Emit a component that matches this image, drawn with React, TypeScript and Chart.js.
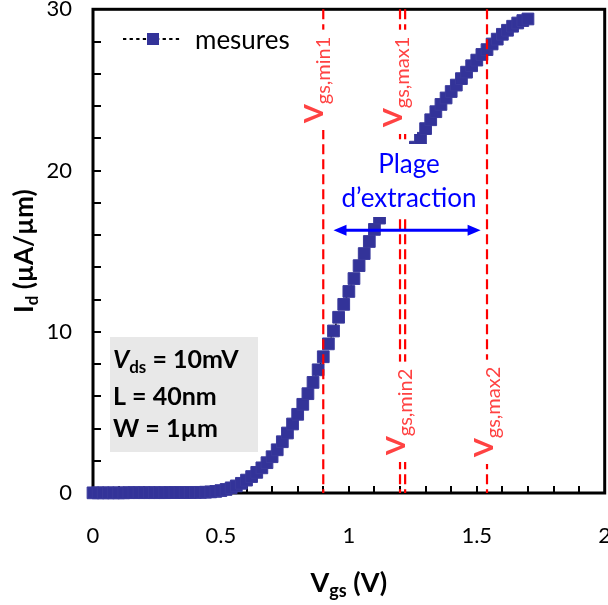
import React, { useEffect, useRef } from "react";
import { Chart, registerables } from "chart.js";

Chart.register(...registerables);

// ---------- data ----------
const vgs = [
  0, 0.02, 0.04, 0.06, 0.08, 0.1, 0.12, 0.14, 0.16, 0.18, 0.2, 0.22, 0.24, 0.26, 0.28, 0.3,
  0.32, 0.34, 0.36, 0.38, 0.4, 0.42, 0.44, 0.46, 0.48, 0.5, 0.52, 0.54, 0.56, 0.58, 0.6, 0.62,
  0.64, 0.66, 0.68, 0.7, 0.72, 0.74, 0.76, 0.78, 0.8, 0.82, 0.84, 0.86, 0.88, 0.9, 0.92, 0.94,
  0.96, 0.98, 1.0, 1.02, 1.04, 1.06, 1.08, 1.1, 1.12, 1.14, 1.16, 1.18, 1.2, 1.22, 1.24, 1.26,
  1.28, 1.3, 1.32, 1.34, 1.36, 1.38, 1.4, 1.42, 1.44, 1.46, 1.48, 1.5, 1.52, 1.54, 1.56, 1.58,
  1.6, 1.62, 1.64, 1.66, 1.68, 1.7,
];
const idMesures = [
  0.01, 0.01, 0.01, 0.01, 0.01, 0.01, 0.01, 0.02, 0.02, 0.02, 0.02, 0.02, 0.02, 0.02, 0.02, 0.03,
  0.03, 0.03, 0.03, 0.03, 0.04, 0.04, 0.05, 0.07, 0.1, 0.15, 0.22, 0.32, 0.44, 0.6, 0.8, 1.02,
  1.28, 1.56, 1.88, 2.25, 2.68, 3.18, 3.72, 4.28, 4.88, 5.5, 6.16, 6.86, 7.64, 8.45, 9.25, 10.05,
  10.9, 11.7, 12.5, 13.3, 14.1, 14.85, 15.6, 16.35, 17.05, 17.75, 18.4, 19.05, 19.7, 20.3, 20.88, 21.45,
  22.0, 22.6, 23.15, 23.65, 24.1, 24.5, 24.9, 25.3, 25.7, 26.1, 26.5, 26.85, 27.2, 27.5, 27.85, 28.15,
  28.45, 28.7, 28.95, 29.15, 29.3, 29.4,
];
const seriesName = "mesures";
const xTickValues = [0, 0.5, 1, 1.5, 2];
const xTickLabels = ["0", "0.5", "1", "1.5", "2"];
const yTickValues = [0, 10, 20, 30];
const yTickLabels = ["0", "10", "20", "30"];
const xMinorStep = 0.1;
const yMinorStep = 2;

const vgsMin1 = 0.9;
const vgsMax1 = 1.2;
const vgsMin2 = 1.22;
const vgsMax2 = 1.54;
const arrowFrom = 0.94;
const arrowTo = 1.515;
const arrowLevel = 16.3;

const infoLines = ["= 10mV", "L = 40nm", "W = 1µm"];
const plageText = ["Plage", "d\u2019extraction"];

// ---------- style ----------
const FONT = "Lato, 'Noto Sans', sans-serif";
const MARK = "#333399";
const LABEL_RED = "#ff4242";

type Part = { t: string; size: number; bold?: boolean; italic?: boolean; dy?: number };
const pf = (p: Part) => `${p.italic ? "italic " : ""}${p.bold ? "bold " : ""}${p.size}px ${FONT}`;

function measureParts(ctx: CanvasRenderingContext2D, parts: Part[]) {
  let w = 0;
  for (const p of parts) {
    ctx.font = pf(p);
    w += ctx.measureText(p.t).width;
  }
  return w;
}
function drawParts(ctx: CanvasRenderingContext2D, parts: Part[], x: number, y: number, align: "left" | "center") {
  const w = measureParts(ctx, parts);
  let cx = align === "center" ? x - w / 2 : x;
  ctx.textAlign = "left";
  ctx.textBaseline = "alphabetic";
  for (const p of parts) {
    ctx.font = pf(p);
    ctx.fillText(p.t, cx, y + (p.dy || 0));
    cx += ctx.measureText(p.t).width;
  }
  return w;
}

function rotatedLabel(ctx: CanvasRenderingContext2D, sub: string, ax: number, ay: number) {
  const parts: Part[] = [
    { t: "V", size: 27, bold: true },
    { t: sub, size: 20, dy: 7 },
  ];
  ctx.save();
  ctx.translate(ax, ay);
  ctx.rotate(-Math.PI / 2);
  const w = measureParts(ctx, parts);
  ctx.fillStyle = "#ffffff";
  ctx.fillRect(-7, -22, w + 14, 37);
  ctx.fillStyle = LABEL_RED;
  drawParts(ctx, parts, 0, 0, "left");
  ctx.restore();
}

const overlay = {
  id: "overlay",
  beforeDatasetsDraw(chart: any) {
    const { ctx, chartArea: a, scales } = chart;
    const x = scales.x;
    const y = scales.y;
    ctx.save();
    ctx.strokeStyle = "#000";
    ctx.lineWidth = 2;
    ctx.beginPath();
    for (let v = 0; v <= 2 + 1e-9; v += xMinorStep) {
      const px = Math.round(x.getPixelForValue(v));
      ctx.moveTo(px, a.bottom);
      ctx.lineTo(px, a.bottom - 7);
    }
    for (let v = 0; v <= 30 + 1e-9; v += yMinorStep) {
      const py = Math.round(y.getPixelForValue(v));
      ctx.moveTo(a.left, py);
      ctx.lineTo(a.left + 8, py);
    }
    ctx.stroke();
    ctx.lineWidth = 3;
    ctx.strokeRect(a.left, a.top, a.right - a.left, a.bottom - a.top);
    ctx.restore();
  },
  afterDatasetsDraw(chart: any) {
    const { ctx, chartArea: a, scales } = chart;
    const x = scales.x;
    const y = scales.y;
    ctx.save();

    // dashed limits
    ctx.strokeStyle = "#ff0000";
    ctx.lineWidth = 2.2;
    ctx.setLineDash([10, 5]);
    for (const v of [vgsMin1, vgsMax1, vgsMin2, vgsMax2]) {
      const px = x.getPixelForValue(v);
      ctx.beginPath();
      ctx.moveTo(px, a.top);
      ctx.lineTo(px, a.bottom);
      ctx.stroke();
    }
    ctx.setLineDash([]);

    // "Plage d'extraction" text box
    ctx.fillStyle = "#ffffff";
    ctx.fillRect(335, 144, 145, 73);
    ctx.fillStyle = "#0000ff";
    drawParts(ctx, [{ t: plageText[0], size: 26 }], 409, 173, "center");
    drawParts(ctx, [{ t: plageText[1], size: 26 }], 409, 207, "center");

    // double arrow
    const ax1 = x.getPixelForValue(arrowFrom);
    const ax2 = x.getPixelForValue(arrowTo);
    const ay = y.getPixelForValue(arrowLevel);
    ctx.strokeStyle = "#0000ff";
    ctx.lineWidth = 3;
    ctx.beginPath();
    ctx.moveTo(ax1 + 10, ay);
    ctx.lineTo(ax2 - 10, ay);
    ctx.stroke();
    ctx.fillStyle = "#0000ff";
    ctx.beginPath();
    ctx.moveTo(ax1, ay);
    ctx.lineTo(ax1 + 13, ay - 5.5);
    ctx.lineTo(ax1 + 13, ay + 5.5);
    ctx.closePath();
    ctx.moveTo(ax2, ay);
    ctx.lineTo(ax2 - 13, ay - 5.5);
    ctx.lineTo(ax2 - 13, ay + 5.5);
    ctx.closePath();
    ctx.fill();

    // rotated labels
    rotatedLabel(ctx, "gs,min1", 323, 123);
    rotatedLabel(ctx, "gs,max1", 402, 127);
    rotatedLabel(ctx, "gs,min2", 405, 455);
    rotatedLabel(ctx, "gs,max2", 493, 457);

    // legend
    ctx.strokeStyle = "#000";
    ctx.lineWidth = 2;
    ctx.setLineDash([3.3, 3.3]);
    ctx.beginPath();
    ctx.moveTo(123, 39);
    ctx.lineTo(181, 39);
    ctx.stroke();
    ctx.setLineDash([]);
    ctx.fillStyle = MARK;
    ctx.fillRect(147, 33, 12, 12);
    ctx.fillStyle = "#000";
    drawParts(ctx, [{ t: seriesName, size: 26 }], 195, 49, "left");

    // info box
    ctx.fillStyle = "#e8e8e8";
    ctx.fillRect(110, 337, 148, 115);
    ctx.fillStyle = "#000";
    drawParts(
      ctx,
      [
        { t: "V", size: 25, bold: true, italic: true },
        { t: "ds", size: 17, bold: true, dy: 5 },
        { t: " " + infoLines[0], size: 25, bold: true },
      ],
      113,
      368,
      "left"
    );
    drawParts(ctx, [{ t: infoLines[1], size: 25, bold: true }], 113, 405, "left");
    drawParts(ctx, [{ t: infoLines[2], size: 25, bold: true }], 113, 437, "left");

    // axis titles
    drawParts(
      ctx,
      [
        { t: "V", size: 27, bold: true },
        { t: "gs", size: 18, bold: true, dy: 5 },
        { t: " (V)", size: 27, bold: true },
      ],
      (a.left + a.right) / 2,
      592,
      "center"
    );
    ctx.save();
    ctx.translate(33, (a.top + a.bottom) / 2);
    ctx.rotate(-Math.PI / 2);
    drawParts(
      ctx,
      [
        { t: "I", size: 26, bold: true },
        { t: "d", size: 17, bold: true, dy: 5 },
        { t: " (µA/µm)", size: 26, bold: true },
      ],
      0,
      0,
      "center"
    );
    ctx.restore();

    ctx.restore();
  },
};

export default function App() {
  const ref = useRef<HTMLCanvasElement | null>(null);
  useEffect(() => {
    if (!ref.current) return;
    const chart = new Chart(ref.current, {
      type: "line",
      data: {
        datasets: [
          {
            label: seriesName,
            data: vgs.map((v, i) => ({ x: v, y: idMesures[i] })),
            showLine: true,
            borderColor: "#000000",
            borderWidth: 1.5,
            borderDash: [3, 3],
            pointStyle: "rect",
            pointRadius: 8.3,
            pointBackgroundColor: MARK,
            pointBorderColor: "#3a3a9c",
            pointBorderWidth: 1,
            clip: false as any,
          },
        ],
      },
      options: {
        responsive: false,
        animation: false,
        devicePixelRatio: 1,
        layout: { padding: { left: 0, right: 3, top: 8, bottom: 0 } },
        plugins: { legend: { display: false }, tooltip: { enabled: false } },
        scales: {
          x: {
            type: "linear",
            min: 0,
            max: 2,
            afterBuildTicks: (s: any) => {
              s.ticks = xTickValues.map((v) => ({ value: v }));
            },
            ticks: {
              callback: (v: any) => xTickLabels[xTickValues.indexOf(Number(v))] ?? "",
              font: { family: FONT, size: 22 },
              color: "#000",
              padding: 30,
              maxRotation: 0,
              autoSkip: false,
            },
            grid: { display: false, drawTicks: false },
            border: { display: false },
            afterFit: (s: any) => {
              s.height = 112;
              s.paddingLeft = 0;
              s.paddingRight = 0;
            },
          },
          y: {
            type: "linear",
            min: 0,
            max: 30,
            afterBuildTicks: (s: any) => {
              s.ticks = yTickValues.map((v) => ({ value: v }));
            },
            ticks: {
              callback: (v: any) => yTickLabels[yTickValues.indexOf(Number(v))] ?? "",
              font: { family: FONT, size: 22 },
              color: "#000",
              padding: 21,
              autoSkip: false,
            },
            grid: { display: false, drawTicks: false },
            border: { display: false },
            afterFit: (s: any) => {
              s.width = 93;
              s.paddingTop = 0;
              s.paddingBottom = 0;
            },
          },
        },
      },
      plugins: [overlay],
    });
    return () => chart.destroy();
  }, []);
  return (
    <div
      style={{
        position: "absolute",
        left: 0,
        top: 0,
        width: 608,
        height: 605,
        overflow: "hidden",
        background: "#fff",
      }}
    >
      <canvas ref={ref} width={614} height={605} style={{ display: "block" }} />
    </div>
  );
}
